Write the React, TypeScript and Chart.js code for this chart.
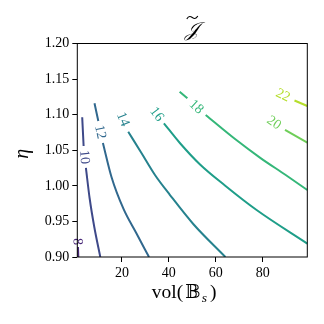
import React, { useEffect, useRef } from "react";
import { Chart, registerables } from "chart.js";
Chart.register(...registerables);

const levels = [8, 10, 12, 14, 16, 18, 20, 22];
const levelColors = ["#482878", "#3e4989", "#31688e", "#26828e", "#1f9e89", "#35b779", "#6ece58", "#b5de2b"];

// contour paths (null marks the gap where the inline label sits)
const vol8 = [1.0, 1.12, null, 1.3, 1.43];
const eta8 = [0.94, 0.929, null, 0.914, 0.9];
const vol10 = [3.09, 3.69, null, 4.67, 6.24, 8.24, 10.8];
const eta10 = [1.0963, 1.056, null, 1.0251, 0.9829, 0.9421, 0.9];
const vol12 = [8.33, 9.95, null, 11.91, 15.57, 20.69, 26.23, 31.55];
const eta12 = [1.116, 1.0911, null, 1.0602, 1.0124, 0.9675, 0.933, 0.9];
const vol14 = [16.77, 18.47, null, 22.7, 28.4, 34.1, 40.5, 50.4, 64.1];
const eta14 = [1.1267, 1.1112, null, 1.0761, 1.0457, 1.0152, 0.9871, 0.9464, 0.9];
const vol16 = [28.44, 31.98, null, 37.9, 44.7, 53.3, 63.9, 77.4, 99];
const eta16 = [1.13, 1.1136, null, 1.0879, 1.0602, 1.03, 1.0005, 0.966, 0.9188];
const vol18 = [44.6, 47.9, null, 55.7, 68.5, 79.1, 89.8, 99];
const eta18 = [1.1323, 1.123, null, 1.0995, 1.065, 1.039, 1.0152, 0.9942];
const vol20 = [58.95, 80.25, null, 89.5, 99];
const eta20 = [1.1403, 1.0995, null, 1.0785, 1.0606];
const vol22 = [80.13, 83.83, null, 93.54, 99];
const eta22 = [1.1406, 1.1354, null, 1.1199, 1.1122];

const contourVols = [vol8, vol10, vol12, vol14, vol16, vol18, vol20, vol22];
const contourEtas = [eta8, eta10, eta12, eta14, eta16, eta18, eta20, eta22];

const xTicks = [20, 40, 60, 80];
const yTicks = [0.9, 0.95, 1.0, 1.05, 1.1, 1.15, 1.2];
const xMin = 1, xMax = 99, yMin = 0.9, yMax = 1.2;

const SERIF = "'Liberation Serif', 'DejaVu Serif', serif";

const framePlugin = {
  id: "frameAndLabels",
  afterDatasetsDraw(chart: any) {
    const ctx = chart.ctx;
    const xs = chart.scales.x, ys = chart.scales.y;
    const ca = chart.chartArea;
    // contour inline labels
    chart.data.datasets.forEach((ds: any, di: number) => {
      const d = ds.data;
      const gi = d.findIndex((p: any) => p.y === null);
      if (gi < 1 || gi >= d.length - 1) return;
      const a = d[gi - 1], b = d[gi + 1];
      const ax = xs.getPixelForValue(a.x), ay = ys.getPixelForValue(a.y);
      const bx = xs.getPixelForValue(b.x), by = ys.getPixelForValue(b.y);
      const mx = (ax + bx) / 2, my = (ay + by) / 2;
      let ang = Math.atan2(by - ay, bx - ax);
      if (ang > Math.PI / 2) ang -= Math.PI;
      if (ang <= -Math.PI / 2) ang += Math.PI;
      ctx.save();
      ctx.translate(mx, my);
      ctx.rotate(ang);
      ctx.fillStyle = ds.borderColor;
      ctx.font = `14px ${SERIF}`;
      ctx.textAlign = "center";
      ctx.textBaseline = "middle";
      ctx.fillText(String(levels[di]), 0, 0.5);
      ctx.restore();
    });
    // frame
    ctx.save();
    ctx.strokeStyle = "#000";
    ctx.lineWidth = 1;
    ctx.strokeRect(ca.left, ca.top, ca.right - ca.left, ca.bottom - ca.top);
    ctx.restore();
  },
  afterDraw(chart: any) {
    const ctx = chart.ctx;
    const ca = chart.chartArea;
    const cx = (ca.left + ca.right) / 2;
    ctx.save();
    ctx.fillStyle = "#000";
    ctx.textBaseline = "alphabetic";
    // title
    ctx.font = `italic 20px 'DejaVu Serif', 'DejaVu Sans', serif`;
    ctx.textAlign = "center";
    ctx.fillText("\u{1D4A5}", cx, 35.5);
    ctx.beginPath();
    ctx.lineWidth = 1.1;
    ctx.strokeStyle = "#000";
    ctx.moveTo(cx - 5.5, 19);
    ctx.bezierCurveTo(cx - 3.5, 15.5, cx - 1.5, 16.5, cx, 17.5);
    ctx.bezierCurveTo(cx + 1.5, 18.5, cx + 3.5, 19.5, cx + 5.5, 16);
    ctx.stroke();
    // x label
    ctx.textAlign = "left";
    ctx.font = `19.5px ${SERIF}`;
    const x0 = cx - 40.5;
    ctx.fillText("vol(", x0, 298.3);
    ctx.font = `18px 'DejaVu Serif', 'DejaVu Sans', serif`;
    ctx.fillText("\u{1D539}", x0 + 33.5, 298.3);
    ctx.font = `italic 13.5px ${SERIF}`;
    ctx.fillText("s", x0 + 50, 301.5);
    ctx.font = `19.5px ${SERIF}`;
    ctx.fillText(")", x0 + 58.3, 298.3);
    // y label
    ctx.translate(28, (ca.top + ca.bottom) / 2 + 3.5);
    ctx.rotate(-Math.PI / 2);
    ctx.textAlign = "center";
    ctx.font = `italic 20px ${SERIF}`;
    ctx.fillText("\u03B7", 0, 0);
    ctx.restore();
  },
};

export default function App() {
  const ref = useRef<HTMLCanvasElement | null>(null);
  useEffect(() => {
    const canvas = ref.current;
    if (!canvas) return;
    const datasets = contourVols.map((vols, i) => ({
      label: String(levels[i]),
      data: vols.map((v, j) => ({ x: v, y: contourEtas[i][j] })),
      borderColor: levelColors[i],
      backgroundColor: levelColors[i],
      borderWidth: 2,
      pointRadius: 0,
      cubicInterpolationMode: "monotone" as const,
      spanGaps: false,
      fill: false,
    }));
    const chart = new Chart(canvas, {
      type: "line",
      data: { datasets },
      plugins: [framePlugin],
      options: {
        animation: false,
        responsive: false,
        devicePixelRatio: 1,
        parsing: false as any,
        layout: { padding: { left: 0, top: 43.5, right: 16.7, bottom: 0 } },
        plugins: { legend: { display: false }, tooltip: { enabled: false }, title: { display: false } },
        scales: {
          x: {
            type: "linear",
            min: xMin,
            max: xMax,
            afterBuildTicks: (s: any) => { s.ticks = xTicks.map((v) => ({ value: v })); },
            afterFit: (s: any) => { s.height = 67; },
            grid: { drawOnChartArea: false, drawTicks: true, tickLength: 5, color: "#000", lineWidth: 1 },
            border: { display: false },
            ticks: { color: "#000", font: { family: SERIF, size: 14 }, padding: 3, maxRotation: 0, callback: (v: any) => String(v) },
          },
          y: {
            type: "linear",
            min: yMin,
            max: yMax,
            afterBuildTicks: (s: any) => { s.ticks = yTicks.map((v) => ({ value: v })); },
            afterFit: (s: any) => { s.width = 77.3; },
            grid: { drawOnChartArea: false, drawTicks: true, tickLength: 5, color: "#000", lineWidth: 1 },
            border: { display: false },
            ticks: { color: "#000", font: { family: SERIF, size: 14 }, padding: 3, callback: (v: any) => Number(v).toFixed(2) },
          },
        },
      },
    });
    return () => chart.destroy();
  }, []);
  return (
    <div style={{ position: "fixed", left: 0, top: 0, width: 324, height: 324, background: "#fff" }}>
      <canvas ref={ref} width={324} height={324} style={{ width: 324, height: 324, display: "block" }} />
    </div>
  );
}
